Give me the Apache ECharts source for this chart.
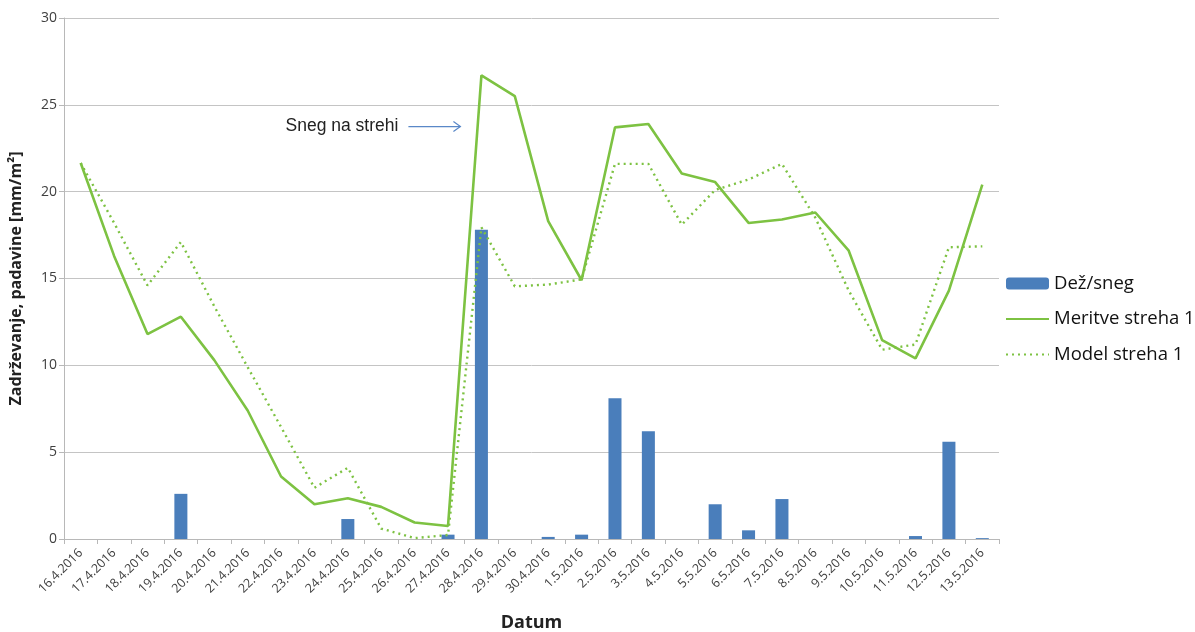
<!DOCTYPE html>
<html><head><meta charset="utf-8">
<script src="https://cdn.jsdelivr.net/npm/echarts@6/dist/echarts.min.js"></script>
<style>html,body{margin:0;padding:0;background:#fff}#c{width:1195px;height:632px}</style>
</head><body><div id="c"></div>
<script>
const categories = ['16.4.2016','17.4.2016','18.4.2016','19.4.2016','20.4.2016','21.4.2016','22.4.2016','23.4.2016','24.4.2016','25.4.2016','26.4.2016','27.4.2016','28.4.2016','29.4.2016','30.4.2016','1.5.2016','2.5.2016','3.5.2016','4.5.2016','5.5.2016','6.5.2016','7.5.2016','8.5.2016','9.5.2016','10.5.2016','11.5.2016','12.5.2016','13.5.2016'];
const rainSnow = [0,0,0,2.6,0,0,0,0,1.15,0,0,0.25,17.8,0,0.12,0.25,8.1,6.2,0,2.0,0.5,2.3,0,0,0,0.17,5.6,0.05];
const measured = [21.65,16.3,11.8,12.8,10.3,7.4,3.6,2.0,2.35,1.85,0.95,0.75,26.7,25.5,18.3,14.9,23.7,23.9,21.05,20.55,18.2,18.4,18.8,16.6,11.45,10.4,14.3,20.4];
const model = [21.65,18.2,14.6,17.1,13.4,9.9,6.45,2.95,4.1,0.6,0.05,0.23,17.95,14.55,14.65,14.95,21.6,21.6,18.1,20.1,20.7,21.6,18.5,14.3,10.9,11.2,16.8,16.85];
const yTicks = {min:0, max:30, interval:5};
const seriesNames = ['Dež/sneg','Meritve streha 1','Model streha 1'];
const annotationText = 'Sneg na strehi';

const FONT = '"Open Sans", "DejaVu Sans", sans-serif';
const green = '#7DC242';
const chart = echarts.init(document.getElementById('c'), null, {renderer:'canvas'});
chart.setOption({
  animation:false,
  textStyle:{fontFamily:FONT},
  grid:{left:64, right:196, top:18, bottom:93, containLabel:false, outerBoundsMode:'none'},
  legend:{
    orient:'vertical', left:1005, top:274, itemGap:16.5, itemWidth:43, itemHeight:12, padding:0,
    textStyle:{fontSize:18.5, color:'#111', fontFamily:FONT},
    data:[
      {name:seriesNames[0]},
      {name:seriesNames[1], itemStyle:{opacity:0}},
      {name:seriesNames[2], itemStyle:{opacity:0}}
    ]
  },
  xAxis:{
    type:'category', data:categories, boundaryGap:true,
    name:'Datum', nameLocation:'middle', nameGap:75,
    nameTextStyle:{fontSize:18, fontWeight:'bold', color:'#222', fontFamily:FONT},
    axisLine:{lineStyle:{color:'#b8b8b8', width:1}},
    axisTick:{show:true, alignWithLabel:false, length:5, lineStyle:{color:'#b8b8b8'}},
    axisLabel:{rotate:45, interval:0, fontSize:12.5, color:'#404040', margin:12, fontFamily:FONT}
  },
  yAxis:{
    type:'value', min:yTicks.min, max:yTicks.max, interval:yTicks.interval,
    name:'Zadrževanje, padavine [mm/m²]', nameLocation:'middle', nameGap:40,
    nameTextStyle:{fontSize:16, fontWeight:'bold', color:'#222', fontFamily:FONT},
    axisLine:{show:true, lineStyle:{color:'#b8b8b8'}},
    axisTick:{show:true, length:5, lineStyle:{color:'#b8b8b8'}},
    splitLine:{lineStyle:{color:'#c4c4c4', width:1}},
    axisLabel:{fontSize:14, color:'#404040', margin:7, fontFamily:FONT}
  },
  series:[
    {name:seriesNames[0], type:'bar', data:rainSnow, barWidth:'39%', itemStyle:{color:'#4A7EBB'}},
    {name:seriesNames[1], type:'line', data:measured, symbol:'none', lineStyle:{color:green, width:2.6}, itemStyle:{color:green}, z:3},
    {name:seriesNames[2], type:'line', data:model, symbol:'none', lineStyle:{color:green, width:2.4, type:[2,4]}, itemStyle:{color:green}, z:3}
  ]
});
// annotation placed relative to data coordinates
const p = chart.convertToPixel({xAxisIndex:0, yAxisIndex:0}, [12, 23.75]);
chart.setOption({graphic:[
  {type:'text', x:p[0]-83, y:p[1], style:{text:annotationText, fontSize:17.5, fill:'#222', font:'17.5px '+FONT, align:'right', verticalAlign:'middle'}},
  {type:'line', shape:{x1:p[0]-73, y1:p[1], x2:p[0]-21, y2:p[1]}, style:{stroke:'#5A88C8', lineWidth:1.2}},
  {type:'polyline', shape:{points:[[p[0]-28,p[1]-5],[p[0]-21,p[1]],[p[0]-28,p[1]+5]]}, style:{stroke:'#5A88C8', lineWidth:1.2, fill:null}}
]});
</script></body></html>
